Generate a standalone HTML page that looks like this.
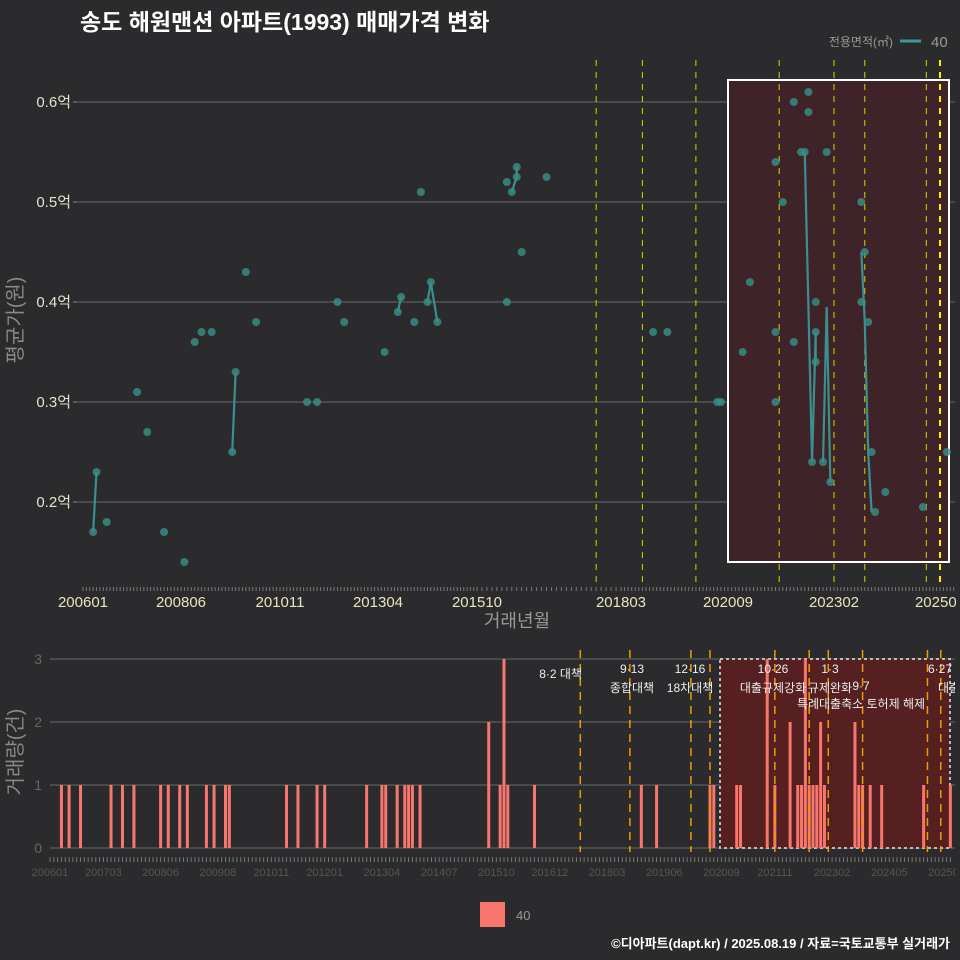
<!DOCTYPE html>
<html><head><meta charset="utf-8"><style>
body{margin:0;background:#2b2b2d;}
svg{display:block;font-family:"Liberation Sans","Noto Sans CJK KR",sans-serif;}
</style></head><body>
<svg id="c" width="960" height="960" viewBox="0 0 960 960" xmlns="http://www.w3.org/2000/svg">
<rect width="960" height="960" fill="#2b2b2d"/>
<defs>
<clipPath id="topclip"><rect x="77" y="55" width="878" height="530"/></clipPath>
<clipPath id="botclip"><rect x="50" y="640" width="905" height="212"/></clipPath>
<clipPath id="labclip"><rect x="0" y="0" width="956" height="960"/></clipPath>
</defs>
<text x="80" y="30" font-size="23" font-weight="bold" fill="#ffffff">송도 해원맨션 아파트(1993) 매매가격 변화</text>
<g>
<text x="893" y="46" font-size="12" fill="#999" text-anchor="end">전용면적(㎡)</text>
<line x1="900" y1="41" x2="921" y2="41" stroke="#3a9a9a" stroke-width="3"/>
<text x="931" y="47" font-size="15" fill="#999">40</text>
</g>
<g id="topPanel"></g>
<g id="botPanel"></g>
<text x="517" y="627" font-size="18" fill="#999" text-anchor="middle">거래년월</text>
<text transform="translate(22,320) rotate(-90)" font-size="20" fill="#888" text-anchor="middle">평균가(원)</text>
<text transform="translate(22,752) rotate(-90)" font-size="20" fill="#888" text-anchor="middle">거래량(건)</text>
<rect x="480" y="902" width="25" height="25" fill="#f8766d"/>
<text x="516" y="920" font-size="13" fill="#999">40</text>
<text x="950" y="948" font-size="13" font-weight="bold" fill="#fff" text-anchor="end">©디아파트(dapt.kr) / 2025.08.19 / 자료=국토교통부 실거래가</text>
</svg>
<script>
// ---- data (month index = months since 2006-01) ----
const ptMonth = [3,4,7,16,19,24,30,33,35,38,44,45,48,51,66,69,75,77,89,93,94,98,100,102,103,105,123,123,124,125,125,126,131,155,159,173,174,180,182,189,189,189,191,194,194,196,197,198,198,199,200,200,200,202,203,204,213,213,214,215,216,217,220,231,238];
const ptValue = [0.17,0.23,0.18,0.31,0.27,0.17,0.14,0.36,0.37,0.37,0.25,0.33,0.43,0.38,0.30,0.30,0.40,0.38,0.35,0.39,0.405,0.38,0.51,0.40,0.42,0.38,0.52,0.40,0.51,0.525,0.535,0.45,0.525,0.37,0.37,0.30,0.30,0.35,0.42,0.37,0.30,0.54,0.50,0.36,0.60,0.55,0.55,0.61,0.59,0.24,0.37,0.34,0.40,0.24,0.55,0.22,0.50,0.40,0.45,0.38,0.25,0.19,0.21,0.195,0.25];
const lineMonths = [[3,4],[44,45],[93,94],[102,103,105],[124,125,125],[197,199,200,200],[202,203,204],[213,214,215,216]];
const lineValues = [[0.17,0.23],[0.25,0.33],[0.39,0.405],[0.40,0.42,0.38],[0.51,0.525,0.535],[0.55,0.24,0.37,0.34],[0.24,0.395,0.22],[0.45,0.38,0.25,0.19]];
const yTicks = [0.2,0.3,0.4,0.5,0.6];
const yTickLabels = ["0.2억","0.3억","0.4억","0.5억","0.6억"];
const xTickMonths = [0,29,58,87,117,146,176,205,236];
const xTickLabels = ["200601","200806","201011","201304","201510","201803","202009","202302","202509"];
const policyMonthsTop = [141,152,167,190,205,214,232,236];
const barMonths = [3,5,8,16,19,22,29,31,34,36,41,43,46,47,62,65,70,72,83,87,88,91,93,94,95,97,115,118,119,120,127,155,159,173,174,180,181,188,190,194,196,197,198,199,200,201,202,203,211,212,213,215,218,229,236];
const barCounts = [1,1,1,1,1,1,1,1,1,1,1,1,1,1,1,1,1,1,1,1,1,1,1,1,1,1,2,1,3,1,1,1,1,1,1,1,1,3,1,2,1,1,3,1,1,1,2,1,2,1,1,1,1,1,1];
const botTickMonths = [0,14,29,44,58,72,87,102,117,131,146,161,176,190,205,220,235];
const botTickLabels = ["200601","200703","200806","200908","201011","201201","201304","201407","201510","201612","201803","201906","202009","202111","202302","202405","202508"];
const policyMonthsBot = [139,152,168,173,190,199,204,213,230,233.5];
const policyLabels = [["8·2 대책",582,678,"end"],["9·13",632,673,"middle"],["종합대책",632,692,"middle"],["12·16",690,673,"middle"],["18차대책",690,692,"middle"],["10·26",773,673,"middle"],["대출규제강화",773,692,"middle"],["1·3",830,673,"middle"],["규제완화",830,692,"middle"],["9·7",861,690,"middle"],["특례대출축소 토허제 해제",861,708,"middle"],["6·27",940,673,"middle"],["대출규제",938,692,"start"]];

// ---- scales ----
const topAnchors = [[0,83],[29,181],[58,280],[87,378],[117,477],[146,621],[176,728],[205,834],[236,940]];
function xTop(m){
  for(let i=0;i<topAnchors.length-1;i++){
    const a=topAnchors[i],b=topAnchors[i+1];
    if(m<=b[0]||i===topAnchors.length-2) return a[1]+(m-a[0])*(b[1]-a[1])/(b[0]-a[0]);
  }
}
function yTop(v){return 502-(v-0.2)*1000;}
function xBot(m){return 50+m*3.815;}
function yBot(c){return 848-c*63;}
const NS="http://www.w3.org/2000/svg";
function mk(tag,attrs,parent){const e=document.createElementNS(NS,tag);for(const k in attrs)e.setAttribute(k,attrs[k]);parent.appendChild(e);return e;}
const topG=document.getElementById('topPanel'), botG=document.getElementById('botPanel');

// ---- top panel ----
let g;
yTicks.forEach((v,i)=>{
  g=mk('line',{x1:77,x2:955,y1:yTop(v),y2:yTop(v),stroke:'#6a6a6a','stroke-width':1},topG);
  
  
  g=mk('line',{x1:73,x2:77,y1:yTop(v),y2:yTop(v),stroke:'#888'},topG);
  
  
  g=mk('text',{x:71,y:yTop(v)+5,'font-size':15,fill:'#e6e2cc','text-anchor':'end'},topG);
  g.textContent=yTickLabels[i];
  
  
});
const tc=mk('g',{'clip-path':'url(#topclip)'},topG);
g=mk('rect',{x:728,y:80,width:221,height:482,fill:'#3e2428',stroke:'#fff','stroke-width':2},tc);


policyMonthsTop.forEach((m,i)=>{
  g=mk('line',{x1:xTop(m),x2:xTop(m),y1:60,y2:585,stroke:i===7?'#ffee00':'#d6d400','stroke-width':i===7?2:1,'stroke-dasharray':'6,6'},tc);
  
  
});
lineMonths.forEach((ms,i)=>{
  const pts=ms.map((m,j)=>xTop(m)+','+yTop(lineValues[i][j])).join(' ');
  g=mk('polyline',{points:pts,fill:'none',stroke:'#3a8f8f','stroke-width':2.2},tc);
  
  
});
ptMonth.forEach((m,i)=>{
  g=mk('circle',{cx:xTop(m),cy:yTop(ptValue[i]),r:4,fill:'#3a9088','fill-opacity':0.8},tc);
  
  
});
for(let m=0;m<=240;m++){
  g=mk('line',{x1:xTop(m),x2:xTop(m),y1:587,y2:591,stroke:'#777','stroke-width':1},topG);
  
  
}
const tl=mk('g',{'clip-path':'url(#labclip)'},topG);
xTickMonths.forEach((m,i)=>{
  g=mk('text',{x:xTop(m),y:607,'font-size':15,fill:'#e8e4c0','text-anchor':'middle'},tl);
  g.textContent=xTickLabels[i];
  
  
});

// ---- bottom panel ----
[0,1,2,3].forEach(c=>{
  g=mk('line',{x1:50,x2:955,y1:yBot(c),y2:yBot(c),stroke:'#6a6a6a'},botG);
  
  
  g=mk('text',{x:42,y:yBot(c)+5,'font-size':14,fill:'#666','text-anchor':'end'},botG);
  g.textContent=String(c);
  
  
});
const bc=mk('g',{'clip-path':'url(#botclip)'},botG);
g=mk('rect',{x:720,y:659,width:230,height:189,fill:'#55201f',stroke:'#bbb','stroke-width':2,'stroke-dasharray':'3,3'},bc);


barMonths.forEach((m,i)=>{
  g=mk('rect',{x:xBot(m)-1.5,y:yBot(barCounts[i]),width:3,height:barCounts[i]*63,fill:'#f8766d'},bc);
  
  
});
policyMonthsBot.forEach(m=>{
  g=mk('line',{x1:xBot(m),x2:xBot(m),y1:650,y2:856,stroke:'#e8a000','stroke-width':1.5,'stroke-dasharray':'8,6'},bc);
  
  
});
policyLabels.forEach(p=>{
  g=mk('text',{x:p[1],y:p[2],'font-size':12,fill:'#eee','text-anchor':p[3]},bc);
  g.textContent=p[0];
  
  
});
for(let m=0;m<=236;m++){
  g=mk('line',{x1:xBot(m),x2:xBot(m),y1:857,y2:862,stroke:'#777'},botG);
  
  
}
const bl=mk('g',{'clip-path':'url(#labclip)'},botG);
botTickMonths.forEach((m,i)=>{
  g=mk('text',{x:xBot(m),y:876,'font-size':11,fill:'#555','text-anchor':'middle'},bl);
  g.textContent=botTickLabels[i];
  
  
});
</script>
</body></html>
